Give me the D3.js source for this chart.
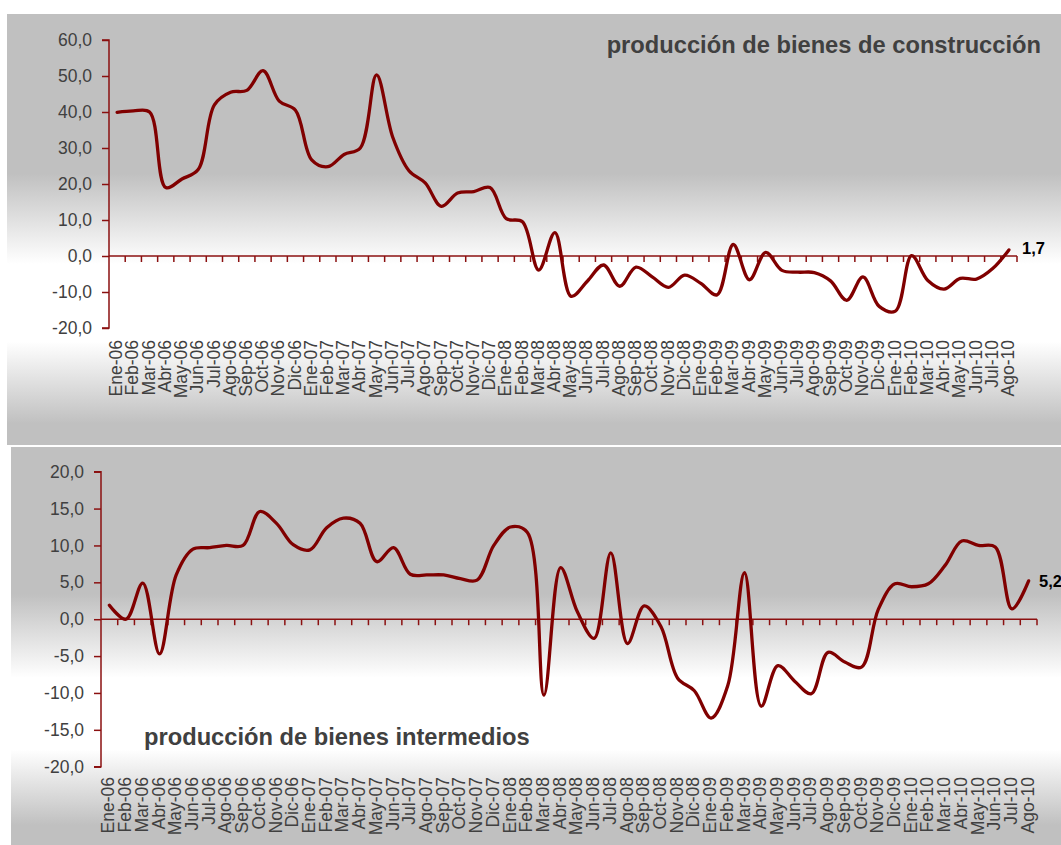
<!DOCTYPE html>
<html>
<head>
<meta charset="utf-8">
<script src="https://cdn.jsdelivr.net/npm/d3@7"></script>
<style>
  html, body { margin: 0; padding: 0; background: #ffffff; }
  svg { display: block; }
  text { font-family: "Liberation Sans", Arial, sans-serif; }
</style>
</head>
<body>
<script>
// ---------------- DATA ----------------
const months = [
  "Ene-06","Feb-06","Mar-06","Abr-06","May-06","Jun-06","Jul-06","Ago-06","Sep-06","Oct-06","Nov-06","Dic-06",
  "Ene-07","Feb-07","Mar-07","Abr-07","May-07","Jun-07","Jul-07","Ago-07","Sep-07","Oct-07","Nov-07","Dic-07",
  "Ene-08","Feb-08","Mar-08","Abr-08","May-08","Jun-08","Jul-08","Ago-08","Sep-08","Oct-08","Nov-08","Dic-08",
  "Ene-09","Feb-09","Mar-09","Abr-09","May-09","Jun-09","Jul-09","Ago-09","Sep-09","Oct-09","Nov-09","Dic-09",
  "Ene-10","Feb-10","Mar-10","Abr-10","May-10","Jun-10","Jul-10","Ago-10"
];
const construccion = [
  39.9, 40.3, 40.0, 19.0, 21.4, 24.0, 42.0, 45.5, 46.0, 51.5, 43.0, 40.5,
  26.7, 24.8, 28.2, 30.0, 50.3, 33.0, 23.7, 20.3, 13.8, 17.5, 17.9, 19.0,
  10.4, 9.5, -3.9, 6.5, -11.2, -7.0, -2.5, -8.4, -3.1, -5.8, -8.7, -5.3,
  -7.6, -10.8, 3.2, -6.6, 1.0, -4.0, -4.5, -4.6, -6.9, -12.3, -5.8, -14.0,
  -15.3, 0.1, -6.8, -9.2, -6.2, -6.4, -3.5, 1.7
];
const intermedios = [
  1.9, 0.0, 4.9, -4.7, 6.0, 9.5, 9.7, 10.0, 10.0, 14.6, 13.0, 10.1,
  9.4, 12.4, 13.7, 13.0, 7.8, 9.7, 6.1, 6.0, 6.0, 5.5, 5.3, 10.0,
  12.5, 11.8, -10.3, 7.0, 1.0, -2.6, 9.0, -3.3, 1.8, -1.0, -8.0, -9.7,
  -13.4, -9.0, 6.3, -11.8, -6.3, -8.4, -10.1, -4.5, -5.8, -6.5, 1.3, 4.8,
  4.4, 4.8, 7.3, 10.6, 10.0, 9.8, 1.4, 5.2
];
const topTicks = [-20, -10, 0, 10, 20, 30, 40, 50, 60];
const bottomTicks = [-20, -15, -10, -5, 0, 5, 10, 15, 20];
const topTitle = "producción de bienes de construcción";
const bottomTitle = "producción de bienes intermedios";
const topLast = "1,7";
const bottomLast = "5,2";

// ---------------- DRAW ----------------
const W = 1061, H = 845;
const svg = d3.select("body").append("svg").attr("width", W).attr("height", H);

const defs = svg.append("defs");
const grad = defs.append("linearGradient").attr("id", "bg").attr("x1", 0).attr("y1", 0).attr("x2", 0).attr("y2", 1);
[[0, "#c0c0c0"], [0.37, "#c0c0c0"], [0.58, "#ffffff"], [0.76, "#ffffff"], [0.95, "#c0c0c0"], [1, "#c0c0c0"]]
  .forEach(([o, c]) => grad.append("stop").attr("offset", o).attr("stop-color", c));

const fmt = v => v.toFixed(1).replace(".", ",");
const RED = "#800000";
const AXIS = "#8b1010";
const TXT = "#404040";

function panel(cfg) {
  const g = svg.append("g");
  g.append("rect").attr("x", cfg.px).attr("y", cfg.py).attr("width", cfg.pw).attr("height", cfg.ph)
    .attr("fill", "url(#bg)");

  const x = d3.scaleBand().domain(months).range([cfg.x0, cfg.x1]).padding(0);
  const y = d3.scaleLinear().domain([cfg.ticks[0], cfg.ticks[cfg.ticks.length - 1]]).range([cfg.yBot, cfg.yTop]);

  // y axis
  const ya = d3.axisLeft(y).tickValues(cfg.ticks).tickSize(7).tickPadding(10).tickFormat(fmt);
  const yg = g.append("g").attr("transform", `translate(${cfg.x0},0)`).call(ya);
  yg.select(".domain").attr("stroke", AXIS).attr("stroke-width", 1.5).attr("d", `M-7,${y(cfg.ticks[cfg.ticks.length-1])}H0V${y(cfg.ticks[0])}H-7`);
  yg.selectAll(".tick line").attr("stroke", AXIS).attr("stroke-width", 1.5);
  yg.selectAll(".tick text").attr("fill", TXT).attr("font-size", "17.5px")
    .attr("font-family", '"Liberation Sans", Arial, sans-serif');

  // x axis at zero
  const y0 = y(0);
  g.append("line").attr("x1", cfg.x0).attr("x2", cfg.x1).attr("y1", y0).attr("y2", y0)
    .attr("stroke", AXIS).attr("stroke-width", 1.5);
  const bounds = months.map(m => x(m)).slice(1).concat([cfg.x1]);
  g.selectAll(".xt").data(bounds).enter().append("line")
    .attr("x1", d => d).attr("x2", d => d).attr("y1", y0).attr("y2", y0 + 6)
    .attr("stroke", AXIS).attr("stroke-width", 1.5);

  // x labels
  g.selectAll(".xl").data(months).enter().append("text")
    .attr("transform", m => `translate(${x(m) + x.bandwidth() / 2 - 1},${cfg.labelY}) rotate(-90)`)
    .attr("text-anchor", "end").attr("dy", "0.35em")
    .attr("font-size", "17.5px").attr("fill", TXT).text(m => m);

  // line
  const line = d3.line()
    .x((d, i) => x(months[i]) + x.bandwidth() / 2)
    .y(d => y(d))
    .curve(d3.curveCatmullRom.alpha(0.5));
  g.append("path").datum(cfg.values).attr("d", line)
    .attr("fill", "none").attr("stroke", RED).attr("stroke-width", 3.3)
    .attr("stroke-linejoin", "round").attr("stroke-linecap", "round");

  // end label
  const n = cfg.values.length - 1;
  g.append("text").attr("x", cfg.x1 + cfg.lblDx).attr("y", y(cfg.values[n]) + cfg.lblDy)
    .attr("font-size", "16.5px").attr("font-weight", "bold").attr("fill", "#000")
    .attr("dy", "0.35em").text(cfg.last);

  // title
  g.append("text").attr("x", cfg.tx).attr("y", cfg.ty).attr("text-anchor", cfg.tAnchor)
    .attr("font-size", "23.7px").attr("font-weight", "bold").attr("fill", TXT).text(cfg.title);
}

panel({
  px: 7, py: 14, pw: 1054, ph: 431,
  x0: 109, x1: 1017, yTop: 40, yBot: 328,
  ticks: topTicks, values: construccion, labelY: 340,
  last: topLast, lblDx: 5, lblDy: -2,
  title: topTitle, tx: 1041, ty: 53, tAnchor: "end"
});

panel({
  px: 11, py: 447, pw: 1050, ph: 398,
  x0: 101, x1: 1037, yTop: 471.7, yBot: 766.7,
  ticks: bottomTicks, values: intermedios, labelY: 777,
  last: bottomLast, lblDx: 2, lblDy: 0,
  title: bottomTitle, tx: 144, ty: 745, tAnchor: "start"
});
</script>
</body>
</html>
